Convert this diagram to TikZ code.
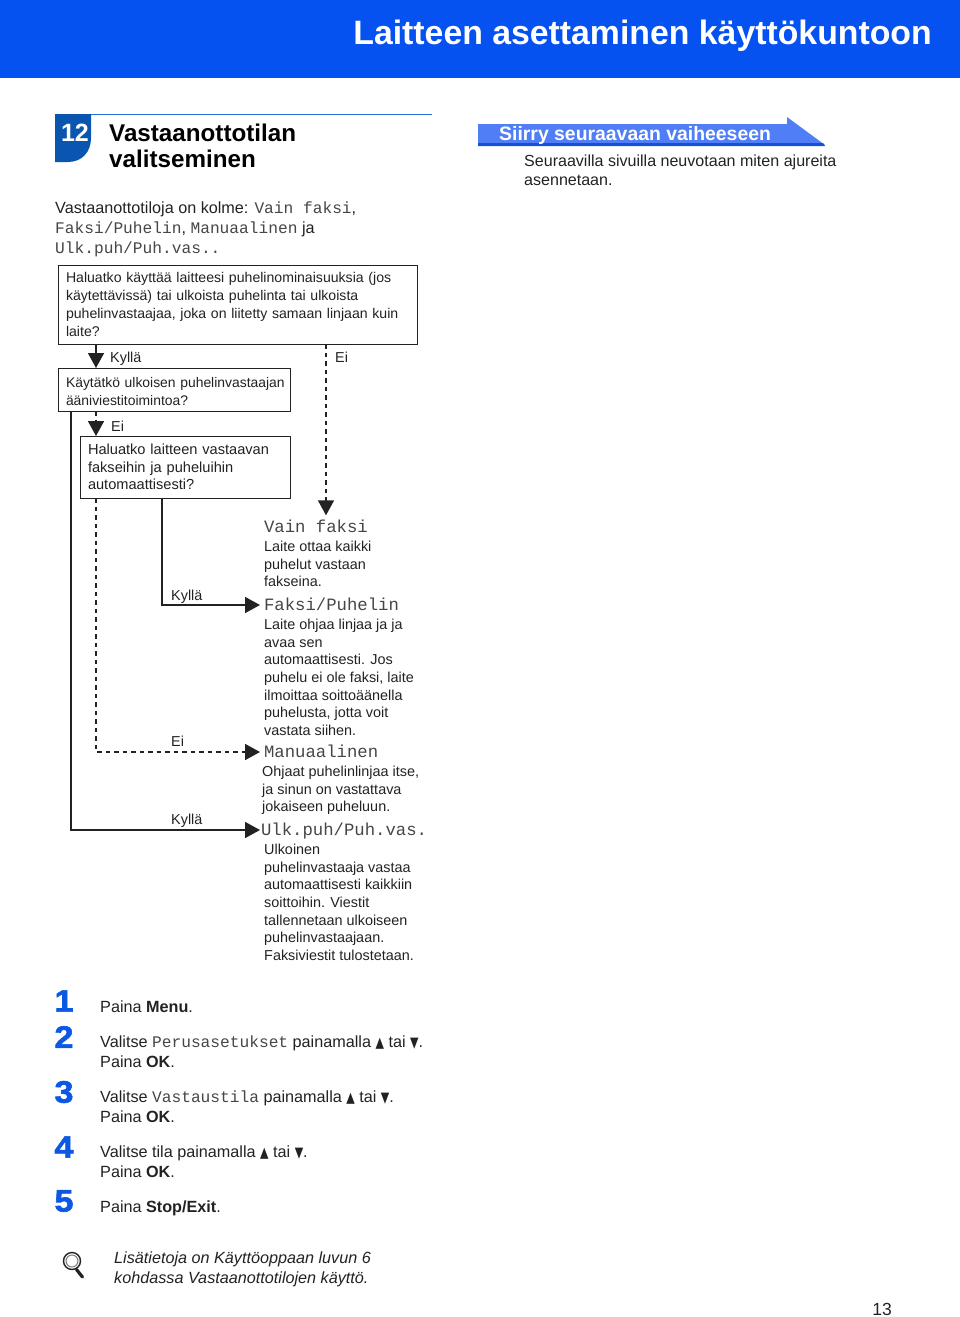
\documentclass[tikz,border=0pt]{standalone}
\usepackage{fontspec}
\usepackage{xcolor}
\usetikzlibrary{arrows.meta, positioning}
\setmainfont{Liberation Sans}
\setmonofont{Liberation Mono}
\newfontfamily\symfont{DejaVu Sans}
\newfontfamily\numfont{Liberation Sans}[BoldFeatures={FakeBold=2,FakeStretch=1.1}]
\definecolor{headerblue}{RGB}{5, 82, 240}
\definecolor{badgeblue}{RGB}{10, 85, 176}
\definecolor{linkblue}{RGB}{42, 111, 216}
\definecolor{bandblue}{RGB}{80, 126, 246}
\definecolor{bandedge}{RGB}{22, 80, 214}
\definecolor{numblue}{RGB}{12, 88, 226}
\definecolor{inkgrey}{RGB}{34, 34, 34}
\definecolor{monogrey}{RGB}{70, 70, 70}
\newcommand{\mono}[1]{{\ttfamily\color{monogrey}#1}}
\newcommand{\upkey}{\scalebox{.68}[.9]{\symfont ▲}}
\newcommand{\downkey}{\scalebox{.68}[.9]{\symfont ▼}}

\begin{document}
\begin{tikzpicture}[x=1pt, y=-1pt,
    question/.style={rectangle, draw=inkgrey, line width=0.9pt, fill=white, outer sep=0pt, align=left, inner xsep=8pt, inner ysep=2pt, font=\fontsize{14.1}{17.7}\selectfont, text=inkgrey},
    answer/.style={inner sep=0pt, text height=13pt, text depth=3pt, font=\fontsize{14.4}{17.7}\selectfont, text=inkgrey},
    mode/.style={inner sep=0pt, outer xsep=4pt, text height=11pt, text depth=0pt, font=\fontsize{17.3}{18}\ttfamily, text=monogrey},
    modetext/.style={inner sep=0pt, align=left, font=\fontsize{14.4}{17.7}\selectfont, text=inkgrey},
    stepnum/.style={inner sep=0pt, font=\fontsize{31}{31}\numfont\bfseries, text=numblue},
    steptext/.style={inner sep=0pt, align=left, anchor=north west, font=\fontsize{16.2}{19.2}\selectfont, text=inkgrey},
    flow/.style={line width=1.6pt, color=inkgrey, -{Triangle[length=15pt, width=16pt]}},
    dashflow/.style={flow, dash pattern=on 4.5pt off 4pt}]

    \useasboundingbox (0,0) rectangle (960,1317);

    % Header
    \fill[headerblue] (0,0) rectangle (960,78);
    \node[anchor=east, inner sep=0pt, text=white, font=\fontsize{33.8}{36}\bfseries] (pagetitle) at (932,36) {Laitteen asettaminen käyttökuntoon};

    % Section heading
    \fill[badgeblue] (55,114) -- (91,114) -- (91,138) .. controls (91,152) and (82,162) .. (68,162) -- (55,162) -- cycle;
    \draw[linkblue, line width=1.3pt] (91,114.5) -- (432,114.5);
    \node[inner sep=0pt, text=white, font=\fontsize{25}{25}\bfseries] (badge) at (75,133) {12};
    \node[anchor=north west, inner sep=0pt, align=left, font=\fontsize{24.2}{26}\bfseries] (sectitle) at (109,124) {Vastaanottotilan\\valitseminen};
    \node[anchor=north west, inner sep=0pt, align=left, text=inkgrey, font=\fontsize{16.2}{20}\selectfont] (intro) at (55,202) {Vastaanottotiloja on kolme: \mono{Vain faksi},\\\mono{Faksi/Puhelin}, \mono{Manuaalinen} ja\\\mono{Ulk.puh/Puh.vas..}};

    % Next step
    \fill[bandblue] (478,124) -- (787,124) -- (787,117) -- (825,145) -- (478,145) -- cycle;
    \fill[bandedge] (478,143) -- (823,143) -- (825,146) -- (478,146) -- cycle;
    \node[anchor=west, inner sep=0pt, text=white, font=\fontsize{19.4}{20}\bfseries] (nexttitle) at (499,135) {Siirry seuraavaan vaiheeseen};
    \node[anchor=north west, inner sep=0pt, align=left, text=inkgrey, font=\fontsize{16.05}{19}\selectfont] (nexttext) at (524,155) {Seuraavilla sivuilla neuvotaan miten ajureita\\asennetaan.};

    % Questions
    \node[question, anchor=north west, text width=343pt, minimum height=79pt] (qphone) at (58,265) {Haluatko käyttää laitteesi puhelinominaisuuksia (jos\\käytettävissä) tai ulkoista puhelinta tai ulkoista\\puhelinvastaajaa, joka on liitetty samaan linjaan kuin\\laite?};
    \node[question, below right=24pt and 0pt of qphone.south west, text width=216pt, minimum height=43pt, font=\fontsize{13.9}{17.7}\selectfont] (qtad) {\rule{0pt}{14pt}\makebox[200pt][l]{Käytätkö ulkoisen puhelinvastaajan}\\ääniviestitoimintoa?};
    \node[question, below right=25pt and 22pt of qtad.south west, text width=194pt, minimum height=62pt, font=\fontsize{14.6}{17.7}\selectfont] (qauto) {Haluatko laitteen vastaavan\\fakseihin ja puheluihin\\automaattisesti?};

    % Answers
    \node[answer, anchor=west] (yes1) at (110,357) {Kyllä};
    \node[answer, anchor=west] (no1) at (335,357) {Ei};
    \node[answer, anchor=west] (no2) at (111,426) {Ei};
    \node[answer, anchor=west] (yes2) at (171,595) {Kyllä};
    \node[answer, anchor=west] (no3) at (171,741) {Ei};
    \node[answer, anchor=west] (yes3) at (171,819) {Kyllä};

    % Modes
    \node[mode, anchor=west] (faxonly) at (260,527) {Vain faksi};
    \node[modetext, below right=8pt and 4pt of faxonly.south west] (faxonlytext) {Laite ottaa kaikki\\puhelut vastaan\\fakseina.};
    \node[mode, anchor=west] (faxtel) at (260,605) {Faksi/Puhelin};
    \node[modetext, below right=8pt and 4pt of faxtel.south west] (faxteltext) {Laite ohjaa linjaa ja ja\\avaa sen\\automaattisesti. Jos\\puhelu ei ole faksi, laite\\ilmoittaa soittoäänella\\puhelusta, jotta voit\\vastata siihen.};
    \node[mode, anchor=west] (manual) at (260,752) {Manuaalinen};
    \node[modetext, below right=8pt and 2pt of manual.south west] (manualtext) {Ohjaat puhelinlinjaa itse,\\ja sinun on vastattava\\jokaiseen puheluun.};
    \node[mode, anchor=west, outer xsep=1pt] (external) at (260,830) {Ulk.puh/Puh.vas.};
    \node[modetext, below right=8pt and 4pt of external.south west] (externaltext) {Ulkoinen\\puhelinvastaaja vastaa\\automaattisesti kaikkiin\\soittoihin. Viestit\\tallennetaan ulkoiseen\\puhelinvastaajaan.\\Faksiviestit tulostetaan.};

    % Connections
    \draw[flow] ([xshift=38pt]qphone.south west) -- ([xshift=38pt]qtad.north west);
    \draw[dashflow] ([xshift=268pt]qphone.south west) -- ([xshift=66pt,yshift=6pt]faxonly.north west);
    \draw[dashflow] ([xshift=38pt]qtad.south west) -- ([xshift=16pt]qauto.north west);
    \draw[flow] ([xshift=13pt]qtad.south west) |- (external.west);
    \draw[flow] ([xshift=82pt]qauto.south west) |- (faxtel.west);
    \draw[dashflow] ([xshift=16pt]qauto.south west) |- (manual.west);

    % Steps
    \node[stepnum] (num1) at (64,1001) {1};
    \node[stepnum] (num2) at (64,1037) {2};
    \node[stepnum] (num3) at (64,1092) {3};
    \node[stepnum] (num4) at (64,1147) {4};
    \node[stepnum] (num5) at (64,1201) {5};
    \node[steptext] (text1) at (100,1001) {Paina \textbf{Menu}.};
    \node[steptext] (text2) at (100,1036) {Valitse \mono{Perusasetukset} painamalla \upkey{} tai \downkey.\\Paina \textbf{OK}.};
    \node[steptext] (text3) at (100,1091) {Valitse \mono{Vastaustila} painamalla \upkey{} tai \downkey.\\Paina \textbf{OK}.};
    \node[steptext] (text4) at (100,1146) {Valitse tila painamalla \upkey{} tai \downkey.\\Paina \textbf{OK}.};
    \node[steptext] (text5) at (100,1201) {Paina \textbf{Stop/Exit}.};

    % Note
    \draw[inkgrey, line width=1.4pt] (72,1261) circle (8.5);
    \draw[inkgrey!60, line width=1pt] (72,1261) circle (6);
    \draw[inkgrey, line width=3.2pt, line cap=round] (76.5,1269.5) -- (82.5,1277);
    \node[steptext, font=\fontsize{16.2}{19.2}\itshape] (note) at (114,1252) {Lisätietoja on Käyttöoppaan luvun 6\\kohdassa Vastaanottotilojen käyttö.};
    \node[inner sep=0pt, text=inkgrey, font=\fontsize{17.5}{18}\selectfont] (pagenum) at (882,1309) {13};
\end{tikzpicture}
\end{document}
